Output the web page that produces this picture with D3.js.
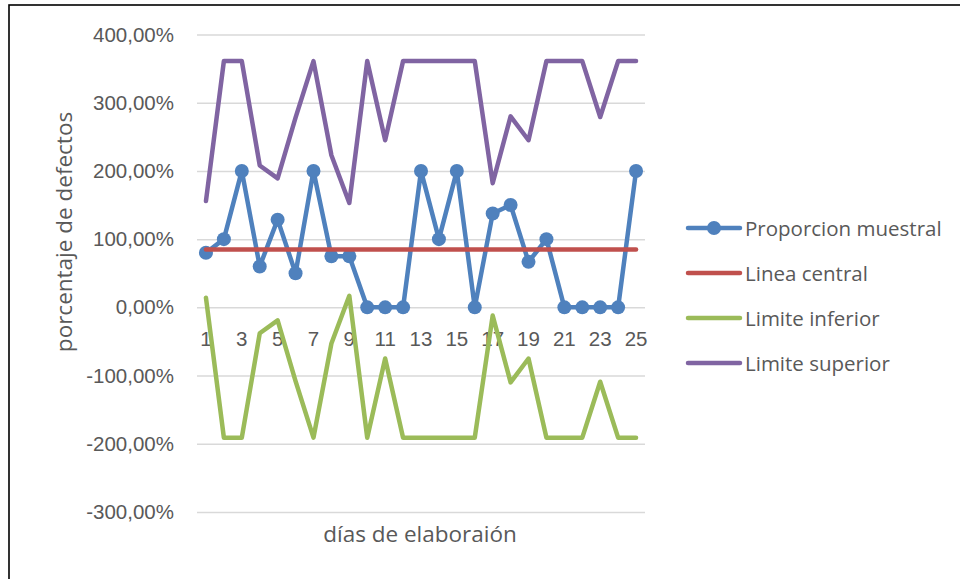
<!DOCTYPE html>
<html>
<head>
<meta charset="utf-8">
<script src="https://cdn.jsdelivr.net/npm/d3@7"></script>
<style>
  html, body { margin: 0; padding: 0; background: #fff; }
  svg { display: block; font-family: "Open Sans", "Noto Sans", sans-serif; }
</style>
</head>
<body>
<svg id="chart" width="960" height="579"></svg>
<script>
// Days of production (category axis)
const days = d3.range(1, 26);
// Values in percent
const proporcionMuestral = [80, 100, 200, 60, 128.6, 50, 200, 75, 75, 0, 0, 0, 200, 100, 200, 0, 137.5, 150, 66.7, 100, 0, 0, 0, 0, 200];
const lineaCentral = [85, 85, 85, 85, 85, 85, 85, 85, 85, 85, 85, 85, 85, 85, 85, 85, 85, 85, 85, 85, 85, 85, 85, 85, 85];
const limiteInferior = [14, -191, -191, -38, -19, -108, -191, -53, 17, -191, -75, -191, -191, -191, -191, -191, -12, -110, -75, -191, -191, -191, -109, -191, -191];
const limiteSuperior = [156, 361, 361, 208, 189, 278, 361, 223, 153, 361, 245, 361, 361, 361, 361, 361, 182, 280, 245, 361, 361, 361, 279, 361, 361];
const yTicks = [-300, -200, -100, 0, 100, 200, 300, 400];
const xTickLabels = [1, 3, 5, 7, 9, 11, 13, 15, 17, 19, 21, 23, 25];

const seriesNames = ["Proporcion muestral", "Linea central", "Limite inferior", "Limite superior"];
const seriesColors = ["#4F81BD", "#C0504D", "#9BBB59", "#8064A2"];
const seriesValues = [proporcionMuestral, lineaCentral, limiteInferior, limiteSuperior];

const svg = d3.select("#chart");
const textColor = "#595959";
const tickFont = 20.5;
const titleFont = 22.5;

// Outer chart frame
svg.append("rect")
  .attr("x", 9).attr("y", 5).attr("width", 970).attr("height", 590)
  .attr("fill", "none").attr("stroke", "#000").attr("stroke-width", 1.6);

const plot = { left: 197, right: 645, top: 34.5, bottom: 512 };

const x = d3.scaleBand().domain(days).range([plot.left, plot.right]).padding(0);
const cx = d => x(d) + x.bandwidth() / 2;
const y = d3.scaleLinear().domain([-300, 400]).range([plot.bottom, plot.top]);

const locale = d3.formatLocale({ decimal: ",", thousands: ".", grouping: [3], currency: ["", "€"], minus: "-" });
const fmt = locale.format(".2f");

// Horizontal gridlines
const yAxis = d3.axisLeft(y).tickValues(yTicks).tickSize(-(plot.right - plot.left)).tickFormat(d => fmt(d) + "%");
const gy = svg.append("g").attr("transform", `translate(${plot.left},0)`).call(yAxis);
gy.select(".domain").remove();
gy.selectAll(".tick line").attr("stroke", "#D9D9D9").attr("stroke-width", 1.5);
gy.selectAll(".tick text")
  .attr("x", -23).attr("fill", textColor).attr("font-size", tickFont);

// Category labels next to the zero line
const xAxis = d3.axisBottom(x).tickValues(xTickLabels).tickSize(0).tickPadding(0);
const gx = svg.append("g").attr("transform", `translate(0,${y(0)})`).call(xAxis);
gx.select(".domain").remove();
gx.selectAll(".tick text")
  .attr("y", 0).attr("dy", "1.55em").attr("dominant-baseline", "central")
  .attr("fill", textColor).attr("font-size", tickFont);
gx.selectAll(".tick text").attr("dy", null).attr("y", 31);

// Axis titles
svg.append("text")
  .attr("transform", "translate(63,232) rotate(-90)")
  .attr("text-anchor", "middle").attr("dominant-baseline", "central")
  .attr("fill", textColor).attr("font-size", titleFont)
  .text("porcentaje de defectos");
svg.append("text")
  .attr("x", 420).attr("y", 533)
  .attr("text-anchor", "middle").attr("dominant-baseline", "central")
  .attr("fill", textColor).attr("font-size", titleFont)
  .text("días de elaboraión");

// Series lines
const line = d3.line().x((d, i) => cx(days[i])).y(d => y(d));
seriesValues.forEach((vals, k) => {
  svg.append("path")
    .datum(vals)
    .attr("d", line)
    .attr("fill", "none")
    .attr("stroke", seriesColors[k])
    .attr("stroke-width", 4.5)
    .attr("stroke-linejoin", "round")
    .attr("stroke-linecap", "round");
  if (k === 0) {
    svg.append("g").selectAll("circle")
      .data(vals)
      .join("circle")
      .attr("cx", (d, i) => cx(days[i]))
      .attr("cy", d => y(d))
      .attr("r", 7)
      .attr("fill", seriesColors[k]);
  }
});

// Legend
const legend = svg.append("g");
const legendY = [228, 273, 318, 363];
seriesNames.forEach((name, k) => {
  const g = legend.append("g").attr("transform", `translate(0,${legendY[k]})`);
  g.append("line")
    .attr("x1", 688).attr("x2", 740).attr("y1", 0).attr("y2", 0)
    .attr("stroke", seriesColors[k]).attr("stroke-width", 4.5).attr("stroke-linecap", "round");
  if (k === 0) {
    g.append("circle").attr("cx", 714).attr("cy", 0).attr("r", 7).attr("fill", seriesColors[k]);
  }
  g.append("text")
    .attr("x", 745).attr("y", 0).attr("dominant-baseline", "central")
    .attr("fill", textColor).attr("font-size", tickFont)
    .text(name);
});
</script>
</body>
</html>
